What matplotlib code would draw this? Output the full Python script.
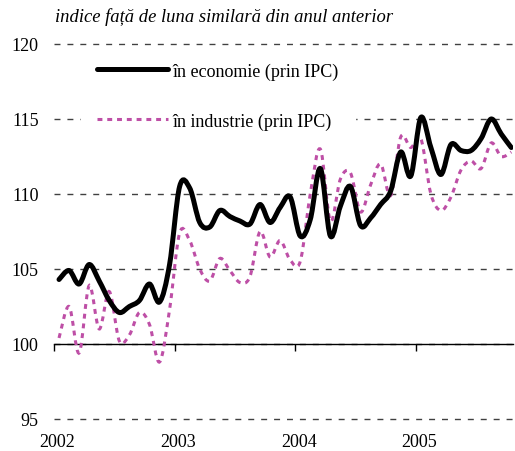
import numpy as np
import matplotlib
matplotlib.use("Agg")
import matplotlib.pyplot as plt
from matplotlib.path import Path
from matplotlib.patches import PathPatch
from matplotlib.lines import Line2D

plt.rcParams['font.family'] = ['Liberation Serif', 'DejaVu Serif']

# monthly data, Jan 2002 - Oct 2005
start_year = 2002
economie = [104.3, 104.9, 104.0, 105.3, 104.2, 102.9, 102.1, 102.5, 102.9, 104.0,
            102.8, 105.3, 110.5, 110.4, 108.1, 107.8, 108.9, 108.5, 108.2, 108.0,
            109.3, 108.1, 109.1, 109.8, 107.2, 108.3, 111.7, 107.2, 109.2, 110.5,
            107.9, 108.4, 109.3, 110.2, 112.8, 111.2, 115.1, 113.1, 111.3, 113.3,
            112.9, 112.9, 113.7, 115.0, 114.0, 113.1]
industrie = [100.4, 102.5, 99.4, 103.9, 101.0, 103.5, 100.2, 100.6, 102.1, 101.3,
             98.8, 102.3, 107.4, 106.9, 105.0, 104.2, 105.7, 104.9, 104.1, 104.5,
             107.5, 105.8, 106.9, 105.6, 105.5, 110.0, 113.0, 108.2, 111.0, 111.4,
             108.8, 110.6, 112.0, 109.9, 113.8, 113.1, 113.7, 110.0, 108.9, 109.8,
             111.6, 112.2, 111.7, 113.4, 112.5, 112.8]
years = [2002, 2003, 2004, 2005]
yticks = [95, 100, 105, 110, 115, 120]
lbl_eco = "în economie (prin IPC)"
lbl_ind = "în industrie (prin IPC)"
titlu = "indice față de luna similară din anul anterior"

x = start_year + (np.arange(len(economie)) + 0.5) / 12


# smoothed line (like the "smoothed line" option in spreadsheets)
def smooth(xs, ys):
    n = len(xs)
    verts = [(xs[0], ys[0])]
    codes = [Path.MOVETO]
    for i in range(n - 1):
        a = max(i - 1, 0)
        b = min(i + 2, n - 1)
        c1 = (xs[i] + (xs[i + 1] - xs[a]) / 6, ys[i] + (ys[i + 1] - ys[a]) / 6)
        c2 = (xs[i + 1] - (xs[b] - xs[i]) / 6, ys[i + 1] - (ys[b] - ys[i]) / 6)
        verts += [c1, c2, (xs[i + 1], ys[i + 1])]
        codes += [Path.CURVE4] * 3
    return Path(verts, codes)


mag = '#BE4FA6'
fig = plt.figure(figsize=(5.15, 4.52), dpi=100)
ax = fig.add_axes([54 / 515, 32 / 452, 459 / 515, 375 / 452])

ax.set_ylim(95, 120)
ax.set_xlim(2002, 2002 + 459 / 120.6)

for v in yticks:
    ax.axhline(v, color='#404040', lw=1, linestyle=(0, (4.3, 5.0)), zorder=1, clip_on=False)

ax.add_patch(PathPatch(smooth(x, industrie), fill=False, edgecolor=mag, lw=2.2,
                       linestyle=(0, (1.6, 1.6)), capstyle='butt', zorder=3))
ax.add_patch(PathPatch(smooth(x, economie), fill=False, edgecolor='black', lw=3.6,
                       capstyle='round', joinstyle='round', zorder=4))

for s in ['top', 'right', 'left']:
    ax.spines[s].set_visible(False)
ax.spines['bottom'].set_position(('data', 100))
ax.spines['bottom'].set_linewidth(1.0)
ax.set_xticks(years)
ax.set_xticklabels([])
ax.tick_params(axis='x', direction='out', length=5, width=1.0)
ax.set_yticks(yticks)
ax.tick_params(axis='y', length=0, pad=11, labelsize=13)

for yr in years:
    ax.annotate(str(yr), xy=(yr + 0.03, 95), xytext=(0, -10), textcoords='offset points',
                ha='center', va='top', fontsize=13)

fig.text(55 / 515, 1 - 17 / 452, titlu, style='italic', fontsize=13.4,
         ha='left', va='center')

handles = [Line2D([], [], color='black', lw=3.6, solid_capstyle='round'),
           Line2D([], [], color=mag, lw=2.2, linestyle=(0, (1.6, 1.6)))]
leg = ax.legend(handles, [lbl_eco, lbl_ind], loc='center left',
                bbox_to_anchor=(81 / 515, 1 - 97 / 452), bbox_transform=fig.transFigure,
                borderaxespad=0, frameon=True, fancybox=False, framealpha=1,
                edgecolor='white', facecolor='white', fontsize=13,
                handlelength=3.9, handletextpad=0.28, labelspacing=1.8, borderpad=0.9)
leg.set_zorder(5)

fig.savefig('out.png', dpi=100)
